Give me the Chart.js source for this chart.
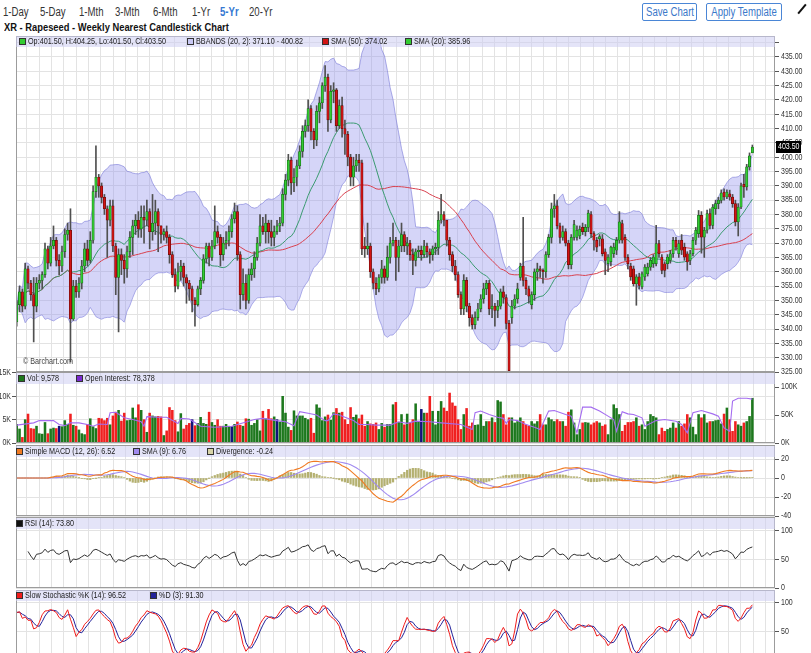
<!DOCTYPE html>
<html>
<head>
<meta charset="utf-8">
<title>XR - Rapeseed - Weekly Nearest Candlestick Chart</title>
<script src="https://cdn.jsdelivr.net/npm/chart.js@4.4.1/dist/chart.umd.min.js"></script>
<style>
	html, body { margin: 0; padding: 0; }
	body { width: 811px; height: 653px; overflow: hidden; position: relative; background: #fff;
		font-family: 'Liberation Sans', Arial, sans-serif; color: #333; }
	.abs { position: absolute; white-space: nowrap; }
	.nar { transform: scaleX(0.8); transform-origin: 0 50%; }
	.range { top: 4px; font-size: 12px; line-height: 16px; color: #333; }
	.range.on { color: #3478d2; font-weight: bold; }
	.btn { top: 3px; height: 16px; border: 1px solid #4a86d6; border-radius: 2px; }
	.btn span { position: absolute; left: 50%; top: 0; line-height: 16px; font-size: 12px; color: #3a78c9;
		transform: translateX(-50%) scaleX(0.8); }
	.title { left: 4px; top: 21px; font-size: 11px; line-height: 12px; font-weight: bold; color: #111;
		transform: scaleX(0.85); transform-origin: 0 50%; }
	canvas { position: absolute; left: 0; }
	.band { position: absolute; left: 16px; width: 759px; height: 11px; background: rgba(205, 205, 243, 0.55); }
	.leg { position: absolute; font-size: 8.6px; line-height: 11px; color: #1a1a1a; white-space: nowrap;
		transform: scaleX(0.84); transform-origin: 0 50%; }
	.sq { position: absolute; width: 5px; height: 5px; border: 1px solid #333; }
	.pen { left: 801px; top: 3px; width: 2px; height: 12px; background: #111; transform: rotate(40deg); }
</style>
</head>
<body>

<div class="abs range nar" style="left:3px">1-Day</div>
<div class="abs range nar" style="left:40px">5-Day</div>
<div class="abs range nar" style="left:79px">1-Mth</div>
<div class="abs range nar" style="left:115px">3-Mth</div>
<div class="abs range nar" style="left:153px">6-Mth</div>
<div class="abs range nar" style="left:192px">1-Yr</div>
<div class="abs range nar on" style="left:220px">5-Yr</div>
<div class="abs range nar" style="left:249px">20-Yr</div>
<div class="abs btn" style="left:642px;width:53px"><span>Save Chart</span></div>
<div class="abs btn" style="left:706px;width:74px"><span>Apply Template</span></div>
<div class="abs pen"></div>
<div class="abs title">XR - Rapeseed - Weekly Nearest Candlestick Chart</div>

<canvas id="chartPrice" width="811" height="352" style="top:28px"></canvas>
<canvas id="chartVol" width="811" height="87" style="top:364px"></canvas>
<canvas id="chartMacd" width="811" height="87" style="top:437px"></canvas>
<canvas id="chartRsi" width="811" height="87" style="top:509px"></canvas>
<canvas id="chartStoch" width="811" height="86" style="top:582px"></canvas>

<div class="abs nar" style="left:23px;top:356px;font-size:9px;color:#444">© Barchart.com</div>
<div id="legends"></div>

<script>
'use strict';

// weekly candles (oldest first)
var opens = [
	342.5,348.5,353,348,361,356,352,348,356,357,
	359,368,363,369,371,364,362,367,373,374.5,
	343.5,355,353,356,362,368,364,371,388,393,
	390,386,382,378,383,369,358,366,364,361,
	367,372,376,378,375,379,378,381,374,377,
	381,376,373,374,372,366,359,355,360,362,
	358,356,354,350,348.5,354,
	357,364.5,369,365,369,374,372,366,370,371,
	374,378.5,381,366,352,356,350,359,361,365,
	370,376,374,377,374,372,374,376,377,387,
	392,399,391,393,397,402,409,411,417,409,
	406,416,419,425,428,413,423,423.5,411,418,
	410,408,400,393,397,399,398,369,368,369,
	360,356,354,358,361,358,
	365,370,371,365,369,373,369,370,366,364,
	367,367.5,366,369,367,366,368,368.5,378,380,
	378,371,366,362,359,352,347,357,348,344,
	341.5,344,347,350.5,354,356,347,348,346.5,348,
	353,351,342,344,348,350.5,358,362,357,354,
	348.5,352,360,361,360.5,360,366,372,382,383,
	376,372,374,370,
	362.5,372,372,372.5,375.5,374,375.5,380,373.3,371,
	371.5,371.5,367,362.8,363.5,366.3,367.5,371,376.8,372,
	365,362,361,355.8,358.2,354.7,358.2,359.3,361.6,362.8,
	362.8,369.8,365.1,362.8,362.8,364,366.3,371,366.3,371,
	368.6,366.3,364,366.3,371,373.3,379.7,372.1,374.5,380.3,
	376.2,382,383.8,384.9,387.8,386.1,387.2,386.1,383.8,377.4,
	382.6,390.5,389.6,396.6,401.5
];
var highs = [
	350,355,354,363,362,357,358,358,359,360,
	370,369,372,376,372,366,369,375,377,382,
	357,357,358,364,370,371,374,390,404,394,
	391,387,383,385,385,370,368,368,366,369,
	374,378,380,381,383,383,385,382,387,385,
	382,376,375,376,373,367,361,363,364,363,
	359,357,355,351,355,358,
	366,370,370,371,383,376,373,372,374,376,
	380,384,383,367,361,359,361,363,367,372,
	380,379,380,378,378,376,378,379,389,394,
	401,400,396,399,404,411,413,420,418,410,
	418,421,426,432,429,425,426,424,420,421,
	413,409,401,400,401,401,399,372,377,370,
	361,358,359,364,362,369,
	372,377,372,371,377,374,372,371,368,368,
	369,369,371,370,368,369,370,381,387,381,
	378,372,367,364,360,353,359,358,349,345,
	346,349,352,356,357,357,352,349,350,354,
	355,352,343,350,352,356,363,379,358,355,
	353,361,363,362,361,367,373,384,387,385,
	377,376,375,371,
	373,378,376,376,377,376.5,381.5,381,374,372,
	373,373,368,366,369,370,372,381,378,373,
	366,363,362,359,359.5,360,362.5,363,365,366,
	376.2,371,366,363.5,366,367.5,372,372,371,373,
	370,367,367.5,372,375.5,381.4,381,375.5,381.5,382,
	383.5,385,386,388.6,389,388.6,388.5,387,385,383.8,
	391,394,397.5,401.5,404.25
];
var lows = [
	341,346,346,347,354,350,335.5,346,354,354,
	358,361,362,368,362,359,360,365,371,328.5,
	343,351,351,354,360,362,363,370,386,386,
	384,380,365,376,367,352,339,359,356,358,
	365,366,373,372,372,370,376,368,371,373,
	367,370,371,370,363,358,353,354,357,355,
	349,350,346,341,348,352,
	356,363,362,364,368,370,362,364,368,369,
	372,377,364,347,350,347,349,357,358,364,
	369,373,370,370,369,369,373,374,376,385,
	390,387,388,390,396,400,407,409,406,403,
	404,412,417,423,409,412,419,409,410,407,
	401,397,390,390,395,395,366,365,366,358,
	354,352,353,356,356,357,
	363,369,357,360,367,367,366,364,359,362,
	365,364,365,365,363,364,366,366,377,376,
	369,364,360,357,351,345,345,346,341,340,
	340,343,346,349,352,345,344,341,344,347,
	349,340,325,342,347,349,357,355,352,349,
	347,350,357,358,356,358,365,370,379,375,
	370,371,369,361,
	361,371,371,371.5,373,372.5,374,372,367.5,367,
	369,365.5,359,360,362,365,366,370,370,364,
	361,357,355,348.3,354,354,357,358.5,360.5,361.5,
	362,365,359.3,358.2,361,363,365,367.5,365,366,
	364,360.5,362.5,365.5,369.5,372,366.5,365,373.5,375,
	375,380,382,384,385,385.5,385,382.5,376,372.5,
	382,386,388.5,395.5,401.5
];
var closes = [
	348.5,353,348,361,356,352,348,356,357,359,
	368,363,369,371,364,362,367,373,374.5,343.5,
	355,353,356,362,368,364,371,388,393,390,
	386,382,378,383,369,358,366,364,361,367,
	372,376,378,375,379,378,381,374,377,381,
	376,373,374,372,366,359,355,360,362,358,
	356,354,350,348.5,354,357,
	364.5,369,365,369,374,372,366,370,371,374,
	378.5,381,366,352,356,350,359,361,365,370,
	376,374,377,374,372,374,376,377,387,392,
	399,391,393,397,402,409,411,417,409,406,
	416,419,425,428,413,423,423.5,411,418,410,
	408,400,393,397,399,398,368,368,369,360,
	356,354,358,361,358,365,
	370,371,365,369,373,369,370,366,364,367,
	367.5,366,369,367,366,368,368.5,378,380,378,
	371,366,362,359,352,347,357,348,344,341.5,
	344,347,350.5,354,356,347,348,346.5,348,353,
	351,342,325.5,348,350.5,354,362,357,354,351.5,
	352,360,361,360.5,360,366,372,382,383,376,
	372,374,370,362.5,
	372,376.5,374.5,374.8,374,375.5,380.5,373.3,371,368.6,
	372.3,366.3,364,365.1,368.6,368.6,371,377.4,371,365,
	362.8,358.2,355.8,358.2,355.2,359.3,361.6,361.6,364,365.1,
	369.8,366.3,360.5,360.5,365.1,366.3,371,368.6,369.8,367.5,
	365.1,363.4,366.3,371,374.5,379.7,372.1,374.5,380.3,376.2,
	382.6,383.8,385,387.5,386.1,387.8,386.1,383.8,377.4,382.6,
	390,389.6,396.6,400.5,403.5
];

// weekly volume, thousands of contracts
var volumeK = [
	4.0,3.0,1.2,5.0,6.2,3.1,3.0,3.6,2.0,1.9,
	4.4,2.0,3.0,3.2,3.1,3.6,3.5,4.8,4.0,6.2,
	3.8,3.6,2.8,2.0,1.8,4.0,5.2,3.5,3.1,5.3,
	5.2,4.8,5.3,3.9,5.8,6.6,7.0,4.7,6.4,4.8,
	4.9,7.5,5.4,8.2,7.0,5.0,2.3,6.4,5.8,5.6,
	5.7,5.6,1.6,2.6,7.6,7.0,4.8,2.4,6.3,3.0,
	3.8,4.2,5.0,3.7,4.2,5.5,4.2,4.0,6.6,4.4,
	3.8,5.0,3.6,3.6,4.0,3.6,3.5,4.0,4.5,3.8,
	3.6,5.2,5.1,3.8,4.2,5.0,2.6,6.8,5.2,7.2,
	5.2,5.6,5.0,4.5,10.0,6.4,3.4,2.7,6.9,5.8,
	5.8,5.8,5.3,5.0,5.3,2.1,8.2,7.5,4.8,5.6,
	6.0,4.9,6.5,7.4,6.4,6.6,5.0,4.0,7.6,5.5,
	6.0,5.2,6.0,3.6,4.6,4.1,4.0,4.3,2.9,4.2,
	3.4,4.0,4.0,8.2,8.7,4.4,
	6.1,3.9,6.2,4.3,5.0,8.4,4.6,7.2,6.4,6.4,
	10.0,6.8,3.9,6.8,8.9,7.5,6.8,10.7,8.6,7.9,
	5.0,2.9,6.1,7.4,3.6,4.3,3.8,3.9,6.1,3.6,
	4.6,4.6,5.4,4.4,9.1,8.8,6.1,3.9,5.4,5.4,
	4.3,4.6,5.4,4.6,3.9,3.6,4.6,4.1,4.6,6.1,
	3.9,3.9,5.4,5.0,4.6,5.0,4.6,4.6,3.6,6.6,
	7.1,4.3,1.8,2.9,4.3,4.4,4.3,3.9,4.3,4.6,
	4.3,3.6,3.9,1.8,5.0,8.2,7.4,6.1,2.5,3.8,
	4.4,4.4,4.6,5.4,3.6,3.9,2.9,4.6,6.1,5.7,
	5.4,1.8,3.2,2.5,2.9,3.2,4.3,3.2,4.6,3.6,
	4.1,6.1,5.4,3.4,1.8,6.1,5.4,6.1,4.3,4.6,
	4.6,4.8,4.9,4.1,6.2,7.5,5.0,2.5,4.6,3.9,
	3.6,4.3,4.6,5.7,9.578
];
// weeks whose volume bar is drawn in navy
var volFlatWeeks = [15, 62, 76, 92, 143];

// open interest (thousands), read at the turning points of the line
var oiWeeks = [0,6,8,13,15,17,19,22,25,27,29,32,33,35,38,41,44,45,46,50,53,57,58,61,65,70,76,84,87,92,
	95,98,100,103,106,109,110,112,114,119,121,124,127,132,135,138,141,146,150,157,161,162,164,167,170,172,
	173,174,177,180,183,185,188,190,194,196,198,200,203,206,209,211,212,214,216,218,221,222,226,229,233,
	235,237,239,242,246,248,250,252,253,255,258,260];
var oiK = [32,36,40,40,33,31,36,36,33,30,34,33,54,55,45,42,38,30,47,46,46,35,44,43,30,28,30,42,44,40,
	38,31,56,53,50,40,40,52,50,40,33,33,32,32,38,35,39,38,36,33,24,54,57,51,46,44,
	35,42,40,33,28,24,57,58,51,48,18,64,64,57,48,42,21,56,52,51,45,30,40,42,39,
	33,18,54,58,52,48,27,21,75,80,80,78.378];

// legend values as printed on the chart
var legendText = {
	price: ['Op:401.50, H:404.25, Lo:401.50, Cl:403.50', 'BBANDS (20, 2): 371.10 - 400.82', 'SMA (50): 374.02', 'SMA (20): 385.96'],
	vol: ['Vol: 9,578', 'Open Interest: 78,378'],
	macd: ['Simple MACD (12, 26): 6.52', 'SMA (9): 6.76', 'Divergence: -0.24'],
	rsi: ['RSI (14): 73.80'],
	stoch: ['Slow Stochastic %K (14): 96.52', '%D (3): 91.30']
};

var colors = {
	up : '#33cc33',
	upEdge : '#177017',
	down : '#d21414',
	downEdge : '#700a0a',
	wick : '#505050',
	bbFill : 'rgba(150, 150, 238, 0.40)',
	bbEdge : 'rgba(120, 120, 215, 0.6)',
	sma50 : '#d8404e',
	sma20 : '#3a9a70',
	volUp : '#1d781d',
	volDown : '#f02020',
	volFlat : '#12127a',
	oi : '#a46cf0',
	macd : '#f07a22',
	signal : '#a08af0',
	divergence : '#b4b070',
	rsi : '#333333',
	stochK : '#f01c1c',
	stochD : '#22229a',
	grid : '#e3e3e3',
	frame : '#9c9c9c',
	text : '#333'
};

var fontFamily = "'Liberation Sans', Arial, sans-serif";

Chart.defaults.font.family = fontFamily;
Chart.defaults.font.size = 9;
Chart.defaults.color = colors.text;
Chart.defaults.animation = false;
Chart.defaults.responsive = false;
Chart.defaults.events = [];
Chart.defaults.plugins.legend.display = false;
Chart.defaults.plugins.tooltip.enabled = false;

var X_MIN = -0.25, X_MAX = 268;
var weeks = closes.map(function(c, i) { return i; });

// vertical grid (about one line a month)
var gridAt = [];
for (var g = 3.6; g < X_MAX; g += 4.35) gridAt.push(g);

// ---------- indicators ----------
function windowOf(arr, i, n) { return arr.slice(Math.max(0, i - n + 1), i + 1); }
function mean(a) { return a.reduce(function(s, v) { return s + v; }, 0) / a.length; }
function sma(arr, n) { return arr.map(function(v, i) { return mean(windowOf(arr, i, n)); }); }
function stdev(arr, n) {
	return arr.map(function(v, i) {
		var w = windowOf(arr, i, n), m = mean(w);
		return Math.sqrt(w.reduce(function(s, x) { return s + (x - m) * (x - m); }, 0) / w.length);
	});
}

var sma20 = sma(closes, 20);
var sma50 = sma(closes, 50);
var sd20 = stdev(closes, 20);
var bbUpper = sma20.map(function(m, i) { return m + 2 * sd20[i]; });
var bbLower = sma20.map(function(m, i) { return m - 2 * sd20[i]; });

var sma12 = sma(closes, 12), sma26 = sma(closes, 26);
var macd = sma12.map(function(v, i) { return v - sma26[i]; });
var signal = sma(macd, 9);
var divergence = macd.map(function(v, i) { return v - signal[i]; });

// RSI (14), Wilder smoothing; the first few weeks have no history, so they stay blank
var rsi = [null], avgG = 0, avgL = 0;
for (var i = 1; i < closes.length; i++) {
	var ch = closes[i] - closes[i - 1];
	var n = Math.min(i, 14);
	avgG = (avgG * (n - 1) + Math.max(ch, 0)) / n;
	avgL = (avgL * (n - 1) + Math.max(-ch, 0)) / n;
	rsi.push(i < 4 ? null : (avgL === 0 ? 100 : 100 - 100 / (1 + avgG / avgL)));
}

// slow stochastic (14, 3, 3)
var fastK = closes.map(function(c, i) {
	var hh = Math.max.apply(null, windowOf(highs, i, 14));
	var ll = Math.min.apply(null, windowOf(lows, i, 14));
	return hh === ll ? 50 : (c - ll) / (hh - ll) * 100;
});
var slowK = sma(fastK, 3);
var slowD = sma(slowK, 3);

function pts(arr) {
	return arr.map(function(v, i) { return { x: i, y: v }; }).filter(function(p) { return p.y !== null; });
}

// ---------- shared axis / plugins ----------
function xAxis() {
	return {
		type : 'linear', min : X_MIN, max : X_MAX, offset : false,
		ticks : { display : false },
		grid : { color : colors.grid, drawTicks : false, offset : false },
		border : { display : false },
		afterBuildTicks : function(s) { s.ticks = gridAt.map(function(v) { return { value : v }; }); },
		afterFit : function(s) { s.height = 0; }
	};
}

function yAxis(pos, min, max, step, width, onArea) {
	return {
		position : pos, min : min, max : max, beginAtZero : false,
		ticks : { stepSize : step, includeBounds : false, display : false },
		grid : { color : colors.grid, tickColor : '#555', tickLength : 4, drawOnChartArea : onArea !== false },
		border : { display : false },
		afterFit : function(s) { s.width = width; }
	};
}

// tick labels in a condensed face (scaled text), formats keyed by scale id
function tickLabels(formats) {
	return {
		id : 'tickLabels',
		afterDraw : function(chart) {
			var ctx = chart.ctx, area = chart.chartArea;
			ctx.save();
			ctx.fillStyle = colors.text;
			ctx.font = '8.4px ' + fontFamily;
			ctx.textBaseline = 'middle';
			Object.keys(formats).forEach(function(id) {
				var s = chart.scales[id], fmt = formats[id];
				var right = s.position === 'right';
				s.ticks.forEach(function(t) {
					var txt = fmt(t.value);
					if (txt === '') return;
					var y = s.getPixelForValue(t.value);
					ctx.save();
					ctx.translate(right ? area.right + 6 : area.left - 5, y);
					ctx.scale(0.84, 1);
					ctx.textAlign = right ? 'left' : 'right';
					ctx.fillText(txt, 0, 0);
					ctx.restore();
				});
			});
			ctx.restore();
		}
	};
}

var framePlugin = {
	id : 'frame',
	afterDraw : function(chart) {
		var a = chart.chartArea, ctx = chart.ctx;
		ctx.save();
		ctx.strokeStyle = colors.frame;
		ctx.lineWidth = 1;
		ctx.strokeRect(Math.round(a.left) + 0.5, Math.round(a.top) + 0.5, Math.round(a.right - a.left) - 1, Math.round(a.bottom - a.top) - 1);
		ctx.restore();
	}
};

var lastPricePlugin = {
	id : 'lastPrice',
	afterDraw : function(chart) {
		var last = closes[closes.length - 1];
		var y = Math.round(chart.scales.y.getPixelForValue(last));
		var ctx = chart.ctx, x = chart.chartArea.right + 1;
		ctx.save();
		ctx.fillStyle = '#000';
		ctx.fillRect(x, y - 6, 25, 12);
		ctx.fillStyle = '#fff';
		ctx.font = '8.4px ' + fontFamily;
		ctx.textBaseline = 'middle';
		ctx.translate(x + 2, y);
		ctx.scale(0.84, 1);
		ctx.fillText(last.toFixed(2), 0, 0);
		ctx.restore();
	}
};

var pad = { left : 16, right : 0, top : 8, bottom : 8 };
function plain(v) { return String(v); }

// ---------- price panel ----------
var isUp = weeks.map(function(i) { return closes[i] >= opens[i]; });

new Chart(document.getElementById('chartPrice'), {
	type : 'bar',
	data : {
		datasets : [ {
			label : 'Body',
			data : weeks.map(function(i) {
				var o = opens[i], c = closes[i];
				return { x : i, y : Math.abs(o - c) < 0.3 ? [c - 0.2, c + 0.2] : [o, c] };
			}),
			backgroundColor : isUp.map(function(u) { return u ? colors.up : colors.down; }),
			borderColor : isUp.map(function(u) { return u ? colors.upEdge : colors.downEdge; }),
			borderWidth : 0.7,
			borderSkipped : false,
			barThickness : 2.4,
			grouped : false,
			order : 0
		}, {
			label : 'Wick',
			data : weeks.map(function(i) { return { x : i, y : [lows[i], highs[i]] }; }),
			backgroundColor : colors.wick,
			barThickness : 1,
			grouped : false,
			order : 1
		}, {
			type : 'line', label : 'SMA (20)', data : pts(sma20),
			borderColor : colors.sma20, borderWidth : 1, pointRadius : 0, order : 2
		}, {
			type : 'line', label : 'SMA (50)', data : pts(sma50),
			borderColor : colors.sma50, borderWidth : 1, pointRadius : 0, order : 3
		}, {
			type : 'line', label : 'BB upper', data : pts(bbUpper),
			borderColor : colors.bbEdge, backgroundColor : colors.bbFill, borderWidth : 1,
			pointRadius : 0, fill : '+1', order : 4
		}, {
			type : 'line', label : 'BB lower', data : pts(bbLower),
			borderColor : colors.bbEdge, borderWidth : 1, pointRadius : 0, fill : false, order : 5
		} ]
	},
	options : {
		devicePixelRatio : 1,
		layout : { padding : pad },
		scales : {
			x : xAxis(),
			y : yAxis('right', 325, 442.32, 5, 36)
		}
	},
	plugins : [ framePlugin, tickLabels({ y : function(v) { return v > 436 ? '' : v.toFixed(2); } }), lastPricePlugin ]
});

// ---------- volume + open interest ----------
new Chart(document.getElementById('chartVol'), {
	type : 'bar',
	data : {
		datasets : [ {
			type : 'line', label : 'Open Interest',
			data : oiWeeks.map(function(w, k) { return { x : w, y : oiK[k] }; }),
			borderColor : colors.oi, borderWidth : 1.1, pointRadius : 0, yAxisID : 'yR', order : 0
		}, {
			label : 'Vol',
			data : weeks.map(function(i) { return { x : i, y : volumeK[i] }; }),
			backgroundColor : weeks.map(function(i) {
				if (volFlatWeeks.indexOf(i) >= 0) return colors.volFlat;
				return isUp[i] ? colors.volUp : colors.volDown;
			}),
			barThickness : 1.9,
			grouped : false,
			yAxisID : 'yL',
			order : 1
		} ]
	},
	options : {
		devicePixelRatio : 1,
		layout : { padding : { left : 0, right : 0, top : 8, bottom : 8 } },
		scales : {
			x : xAxis(),
			yL : yAxis('left', 0, 15.21, 5, 16),
			yR : yAxis('right', 0, 126.8, 50, 36, false)
		}
	},
	plugins : [ framePlugin, tickLabels({ yL : function(v) { return v + 'K'; }, yR : function(v) { return v + 'K'; } }) ]
});

// ---------- MACD ----------
new Chart(document.getElementById('chartMacd'), {
	type : 'bar',
	data : {
		datasets : [ {
			type : 'line', label : 'Simple MACD', data : pts(macd),
			borderColor : colors.macd, borderWidth : 1.1, pointRadius : 0, order : 0
		}, {
			type : 'line', label : 'SMA (9)', data : pts(signal),
			borderColor : colors.signal, borderWidth : 1.1, pointRadius : 0, order : 1
		}, {
			label : 'Divergence', data : pts(divergence),
			backgroundColor : colors.divergence, barThickness : 1.6, grouped : false, order : 2
		} ]
	},
	options : {
		devicePixelRatio : 1,
		layout : { padding : pad },
		scales : {
			x : xAxis(),
			y : yAxis('right', -40, 34.74, 20, 36)
		}
	},
	plugins : [ framePlugin, tickLabels({ y : plain }) ]
});

// ---------- RSI ----------
new Chart(document.getElementById('chartRsi'), {
	type : 'line',
	data : {
		datasets : [ {
			label : 'RSI (14)', data : pts(rsi),
			borderColor : colors.rsi, borderWidth : 1, pointRadius : 0
		} ]
	},
	options : {
		devicePixelRatio : 1,
		layout : { padding : pad },
		scales : {
			x : xAxis(),
			y : yAxis('right', 0, 123.5, 50, 36)
		}
	},
	plugins : [ framePlugin, tickLabels({ y : plain }) ]
});

// ---------- slow stochastic ----------
new Chart(document.getElementById('chartStoch'), {
	type : 'line',
	data : {
		datasets : [ {
			label : '%K', data : pts(slowK),
			borderColor : colors.stochK, borderWidth : 1, pointRadius : 0, order : 0
		}, {
			label : '%D', data : pts(slowD),
			borderColor : colors.stochD, borderWidth : 1, pointRadius : 0, order : 1
		} ]
	},
	options : {
		devicePixelRatio : 1,
		layout : { padding : pad },
		scales : {
			x : xAxis(),
			y : yAxis('right', 0, 122.8, 50, 36)
		}
	},
	plugins : [ framePlugin, tickLabels({ y : plain }) ]
});

// ---------- legend bands ----------
function addLegend(top, items) {
	var host = document.getElementById('legends');
	var band = document.createElement('div');
	band.className = 'band';
	band.style.top = top + 'px';
	host.appendChild(band);
	items.forEach(function(it) {
		var sq = document.createElement('div');
		sq.className = 'sq';
		sq.style.left = it[0] + 'px';
		sq.style.top = (top + 2) + 'px';
		sq.style.background = it[1];
		host.appendChild(sq);
		var t = document.createElement('div');
		t.className = 'leg';
		t.style.left = (it[0] + 9) + 'px';
		t.style.top = top + 'px';
		t.textContent = it[2];
		host.appendChild(t);
	});
}

addLegend(36, [ [19, colors.up, legendText.price[0]], [187, '#c8c8f4', legendText.price[1]],
	[322, colors.down, legendText.price[2]], [405, colors.up, legendText.price[3]] ]);
addLegend(373, [ [18, colors.volUp, legendText.vol[0]], [76, '#7a2ad0', legendText.vol[1]] ]);
addLegend(446, [ [16, colors.macd, legendText.macd[0]], [133, colors.signal, legendText.macd[1]],
	[207, '#d8d4a8', legendText.macd[2]] ]);
addLegend(518, [ [16, '#111', legendText.rsi[0]] ]);
addLegend(590, [ [16, colors.stochK, legendText.stoch[0]], [150, colors.stochD, legendText.stoch[1]] ]);
</script>
</body>
</html>
